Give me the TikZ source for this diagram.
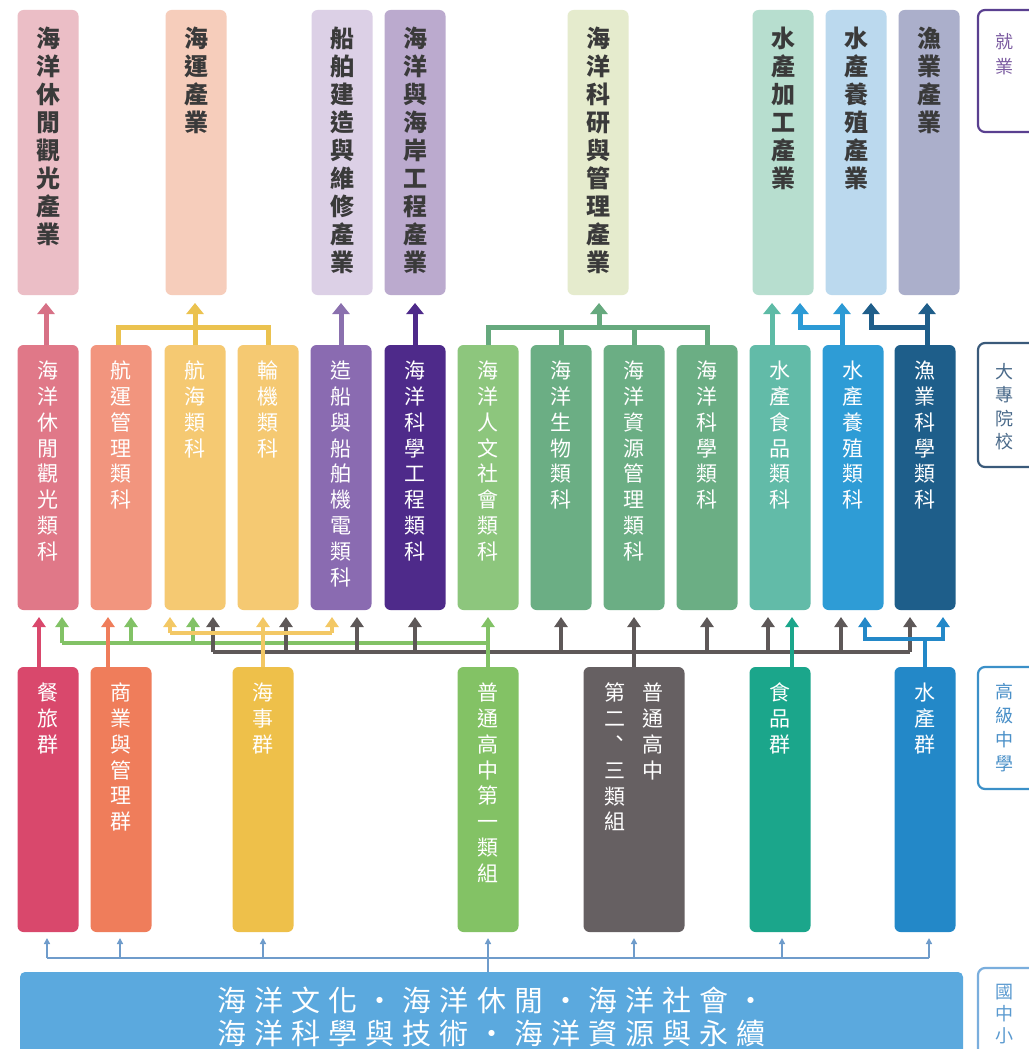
\documentclass[tikz,border=0pt]{standalone}
\usepackage{fontspec}
\setmainfont{Noto Sans CJK TC}
\newfontfamily\barfont[LetterSpace=28]{Noto Sans CJK TC}
\usetikzlibrary{arrows.meta}

% box fills
\definecolor{T1}{HTML}{EBBEC6}\definecolor{T2}{HTML}{F6CDBB}\definecolor{T3}{HTML}{DCD0E6}
\definecolor{T4}{HTML}{BBAACE}\definecolor{T5}{HTML}{E5EBCD}\definecolor{T6}{HTML}{B7DECF}
\definecolor{T7}{HTML}{BBD9EE}\definecolor{T8}{HTML}{ABAFCB}
\definecolor{M1}{HTML}{E07888}\definecolor{M2}{HTML}{F2957E}\definecolor{M3}{HTML}{F5C972}
\definecolor{M5}{HTML}{8A6BB1}\definecolor{M6}{HTML}{4E2A8A}\definecolor{M7}{HTML}{8DC67D}
\definecolor{M8}{HTML}{6BAE84}\definecolor{M11}{HTML}{62BBA8}\definecolor{M12}{HTML}{2E9CD6}
\definecolor{M13}{HTML}{1E5E8A}
\definecolor{B1}{HTML}{D9486C}\definecolor{B2}{HTML}{EF7D5B}\definecolor{B3}{HTML}{EEC04A}
\definecolor{B4}{HTML}{83C265}\definecolor{B5}{HTML}{666062}\definecolor{B6}{HTML}{1BA68B}
\definecolor{B7}{HTML}{2388C8}
\definecolor{ttxt}{HTML}{3A3A3A}
% connector colours
\definecolor{cPink}{HTML}{D77186}\definecolor{cGold}{HTML}{EBC24F}\definecolor{cPurple}{HTML}{8A70AE}
\definecolor{cDPurple}{HTML}{4E2A8A}\definecolor{cGreen}{HTML}{66A97E}\definecolor{cTeal}{HTML}{5EBBA6}
\definecolor{cBlue}{HTML}{2C9AD5}\definecolor{cNavy}{HTML}{1F5E8A}
\definecolor{cCrim}{HTML}{D9486C}\definecolor{cOrange}{HTML}{EF7D5B}\definecolor{cYel}{HTML}{F3C865}
\definecolor{cGr}{HTML}{82C266}\definecolor{cGray}{HTML}{5E5858}\definecolor{cTeal2}{HTML}{1BA68B}
\definecolor{cBlue2}{HTML}{2388C8}\definecolor{cThin}{HTML}{6F9CCB}
\definecolor{barc}{HTML}{5BA9DE}
\definecolor{L1}{HTML}{5A4090}\definecolor{L1t}{HTML}{7A5AA0}
\definecolor{L2}{HTML}{3A5A7A}\definecolor{L2t}{HTML}{4A6A8A}
\definecolor{L3}{HTML}{3B90C8}\definecolor{L3t}{HTML}{4A90C8}
\definecolor{L4}{HTML}{7AAEDD}\definecolor{L4t}{HTML}{5A9AD0}

\newcommand\toptxt[1]{\parbox[c][285pt][t]{61pt}{\centering\fontsize{24}{28}\selectfont\bfseries\vspace*{17pt}#1\par}}
\newcommand\midtxt[1]{\parbox[c][265pt][t]{61pt}{\centering\fontsize{21}{25.8}\selectfont\vspace*{16pt}#1\par}}
\newcommand\labtxt[3]{\parbox[c][#1][t]{70pt}{\vspace*{#2}\parbox[t]{52pt}{\centering #3}\par}}
\newcommand\vcomma{\makebox[1em][l]{\hspace{0.26em}\raisebox{0.26em}{、}}}

\tikzset{
  box/.style={rounded corners=6pt, inner sep=0pt, outer sep=0pt},
  topbox/.style={box, text=ttxt},
  midbox/.style={box, text=white},
  labbox/.style={rounded corners=7pt, line width=2.2pt, inner sep=0pt, outer sep=0pt, anchor=north west},
  lnA/.style={line width=5pt},
  arrA/.style={line width=5pt, -{Triangle[width=17pt,length=11pt]}, shorten >=8pt},
  lnB/.style={line width=4pt},
  arrB/.style={line width=4pt, -{Triangle[width=13pt,length=10pt]}, shorten >=7pt},
  lnC/.style={line width=1.4pt, cThin},
  arrC/.style={line width=1.4pt, cThin, -{Triangle[width=6pt,length=6pt]}, shorten >=6pt},
}

\begin{document}
\begin{tikzpicture}[x=1pt, y=-1pt]
\useasboundingbox (0,0) rectangle (1028,1049);
\fill[white] (0,0) rectangle (1028,1049);

% ---------- top row: industries ----------
\node[topbox, fill=T1] (t1) at (48,152.5)  {\toptxt{海\\洋\\休\\閒\\觀\\光\\產\\業}};
\node[topbox, fill=T2] (t2) at (196,152.5) {\toptxt{海\\運\\產\\業}};
\node[topbox, fill=T3] (t3) at (342,152.5) {\toptxt{船\\舶\\建\\造\\與\\維\\修\\產\\業}};
\node[topbox, fill=T4] (t4) at (415,152.5) {\toptxt{海\\洋\\與\\海\\岸\\工\\程\\產\\業}};
\node[topbox, fill=T5] (t5) at (598,152.5) {\toptxt{海\\洋\\科\\研\\與\\管\\理\\產\\業}};
\node[topbox, fill=T6] (t6) at (783,152.5) {\toptxt{水\\產\\加\\工\\產\\業}};
\node[topbox, fill=T7] (t7) at (856,152.5) {\toptxt{水\\產\\養\\殖\\產\\業}};
\node[topbox, fill=T8] (t8) at (929,152.5) {\toptxt{漁\\業\\產\\業}};

% ---------- middle row: college departments ----------
\node[midbox, fill=M1]  (m1)  at (48,477.5)  {\midtxt{海\\洋\\休\\閒\\觀\\光\\類\\科}};
\node[midbox, fill=M2]  (m2)  at (121,477.5) {\midtxt{航\\運\\管\\理\\類\\科}};
\node[midbox, fill=M3]  (m3)  at (195,477.5) {\midtxt{航\\海\\類\\科}};
\node[midbox, fill=M3]  (m4)  at (268,477.5) {\midtxt{輪\\機\\類\\科}};
\node[midbox, fill=M5]  (m5)  at (341,477.5) {\midtxt{造\\船\\與\\船\\舶\\機\\電\\類\\科}};
\node[midbox, fill=M6]  (m6)  at (415,477.5) {\midtxt{海\\洋\\科\\學\\工\\程\\類\\科}};
\node[midbox, fill=M7]  (m7)  at (488,477.5) {\midtxt{海\\洋\\人\\文\\社\\會\\類\\科}};
\node[midbox, fill=M8]  (m8)  at (561,477.5) {\midtxt{海\\洋\\生\\物\\類\\科}};
\node[midbox, fill=M8]  (m9)  at (634,477.5) {\midtxt{海\\洋\\資\\源\\管\\理\\類\\科}};
\node[midbox, fill=M8]  (m10) at (707,477.5) {\midtxt{海\\洋\\科\\學\\類\\科}};
\node[midbox, fill=M11] (m11) at (780,477.5) {\midtxt{水\\產\\食\\品\\類\\科}};
\node[midbox, fill=M12] (m12) at (853,477.5) {\midtxt{水\\產\\養\\殖\\類\\科}};
\node[midbox, fill=M13] (m13) at (925,477.5) {\midtxt{漁\\業\\科\\學\\類\\科}};

% ---------- bottom row: senior high ----------
\node[midbox, fill=B1] (b1) at (48,799.5)  {\midtxt{餐\\旅\\群}};
\node[midbox, fill=B2] (b2) at (121,799.5) {\midtxt{商\\業\\與\\管\\理\\群}};
\node[midbox, fill=B3] (b3) at (263,799.5) {\midtxt{海\\事\\群}};
\node[midbox, fill=B4] (b4) at (488,799.5) {\midtxt{普\\通\\高\\中\\第\\一\\類\\組}};
\node[midbox, fill=B5] (b5) at (634,799.5) {\parbox[c][265pt][t]{101pt}{\fontsize{21}{25.8}\selectfont\vspace*{16pt}\noindent\hspace*{19pt}\parbox[t]{24pt}{\centering 第\\二\\\vcomma\\三\\類\\組}\hspace*{14pt}\parbox[t]{24pt}{\centering 普\\通\\高\\中}\par}};
\node[midbox, fill=B6] (b6) at (780,799.5) {\midtxt{食\\品\\群}};
\node[midbox, fill=B7] (b7) at (925,799.5) {\midtxt{水\\產\\群}};

% ---------- base bar ----------
\node[fill=barc, rounded corners=5pt, minimum width=943pt, minimum height=90pt, inner sep=0pt,
      text=white, align=center, font={\barfont\fontsize{29}{33}\selectfont}] (bar) at (491.5,1017)
      {海洋文化・海洋休閒・海洋社會・\\海洋科學與技術・海洋資源與永續};

% ---------- right labels ----------
\node[labbox, draw=L1, text=L1t] (lab1) at (978,10)  {\labtxt{122pt}{23pt}{\fontsize{18}{25}\selectfont 就\\業}};
\node[labbox, draw=L2, text=L2t] (lab2) at (978,343) {\labtxt{124pt}{20pt}{\fontsize{18}{23.5}\selectfont 大\\專\\院\\校}};
\node[labbox, draw=L3, text=L3t] (lab3) at (978,667) {\labtxt{122pt}{16pt}{\fontsize{18}{24}\selectfont 高\\級\\中\\學}};
\node[labbox, draw=L4, text=L4t] (lab4) at (978,968) {\labtxt{100pt}{16pt}{\fontsize{18}{22}\selectfont 國\\中\\小}};

% ---------- connectors: departments -> industries ----------
\coordinate (gA) at (118,327); \coordinate (gB) at (268,327); \coordinate (gC) at (195,327);
\coordinate (gD) at (488,327); \coordinate (gE) at (707,327); \coordinate (gF) at (599,327);
\coordinate (bA) at (842,327); \coordinate (bB) at (800,327);
\coordinate (nA) at (927,327); \coordinate (nB) at (871,327);
\coordinate (pA) at (46,327);  \coordinate (tA) at (772,327);

\draw[arrA, cPink] (m1.north -| pA) -- (pA |- t1.south);
\draw[lnA, cGold] (m2.north -| gA) -- (gA) -- (gB) -- (m4.north -| gB);
\draw[arrA, cGold] (m3.north -| gC) -- (gC |- t2.south);
\draw[arrA, cPurple] (m5.north) -- (m5.north |- t3.south);
\draw[arrA, cDPurple] (m6.north) -- (m6.north |- t4.south);
\draw[lnA, cGreen] (m7.north -| gD) -- (gD) -- (gE) -- (m10.north -| gE);
\draw[lnA, cGreen] (m8.north) -- (m8.north |- gD);
\draw[lnA, cGreen] (m9.north) -- (m9.north |- gD);
\draw[arrA, cGreen] (gF) -- (gF |- t5.south);
\draw[arrA, cTeal] (m11.north -| tA) -- (tA |- t6.south);
\draw[arrA, cBlue] (m12.north -| bA) -- (bA |- t7.south);
\draw[arrA, cBlue] (bA) -- (bB) -- (bB |- t6.south);
\draw[arrA, cNavy] (m13.north -| nA) -- (nA |- t8.south);
\draw[arrA, cNavy] (nA) -- (nB) -- (nB |- t7.south);

% ---------- connectors: senior high -> departments ----------
\coordinate (gr0) at (62,643); \coordinate (gr1) at (488,643);
\coordinate (gr2) at (131,643); \coordinate (gr3) at (193,643);
\coordinate (y0) at (170,633); \coordinate (y1) at (332,633);
\coordinate (k0) at (213,652); \coordinate (k1) at (910,652);
\coordinate (wL) at (865,639); \coordinate (wR) at (943,639);
\coordinate (cr) at (39,640); \coordinate (orr) at (108,640); \coordinate (tl) at (792,640);

\draw[lnB, cGr] (gr0) -- (gr1);
\draw[arrB, cGr] (gr0) -- (gr0 |- m1.south);
\draw[arrB, cGr] (gr2) -- (gr2 |- m2.south);
\draw[arrB, cGr] (gr3) -- (gr3 |- m3.south);

\draw[lnB, cGray] (k0) -- (k1);
\foreach \x/\m in {213/m3, 286/m4, 357/m5, 415/m6, 561/m8, 707/m10, 768/m11, 841/m12, 910/m13}{
  \coordinate (kk) at (\x,652);
  \draw[arrB, cGray] (kk) -- (kk |- \m.south);
}
\draw[arrB, cGray] (b5.north) -- (b5.north |- m9.south);

\draw[lnB, cYel] (y0) -- (y1);
\draw[arrB, cYel] (y0) -- (y0 |- m3.south);
\draw[arrB, cYel] (y1) -- (y1 |- m5.south);
\draw[arrB, cYel] (b3.north) -- (b3.north |- m4.south);

\draw[arrB, cGr] (b4.north) -- (b4.north |- m7.south);
\draw[arrB, cCrim] (b1.north -| cr) -- (cr |- m1.south);
\draw[arrB, cOrange] (b2.north -| orr) -- (orr |- m2.south);
\draw[arrB, cTeal2] (b6.north -| tl) -- (tl |- m11.south);
\draw[lnB, cBlue2] (b7.north) -- (b7.north |- wL);
\draw[arrB, cBlue2] (wL -| b7.north) -- (wL) -- (wL |- m12.south);
\draw[arrB, cBlue2] (wR -| b7.north) -- (wR) -- (wR |- m13.south);

% ---------- connectors: base -> senior high ----------
\coordinate (s0) at (47,958); \coordinate (s1) at (929,958);
\draw[lnC] (s0) -- (s1);
\draw[arrC] (bar.north -| b4.south) -- (b4.south);
\foreach \x/\m in {47/b1, 120/b2, 263/b3, 634/b5, 782/b6, 929/b7}{
  \coordinate (ss) at (\x,958);
  \draw[arrC] (ss) -- (ss |- \m.south);
}
\end{tikzpicture}
\end{document}
